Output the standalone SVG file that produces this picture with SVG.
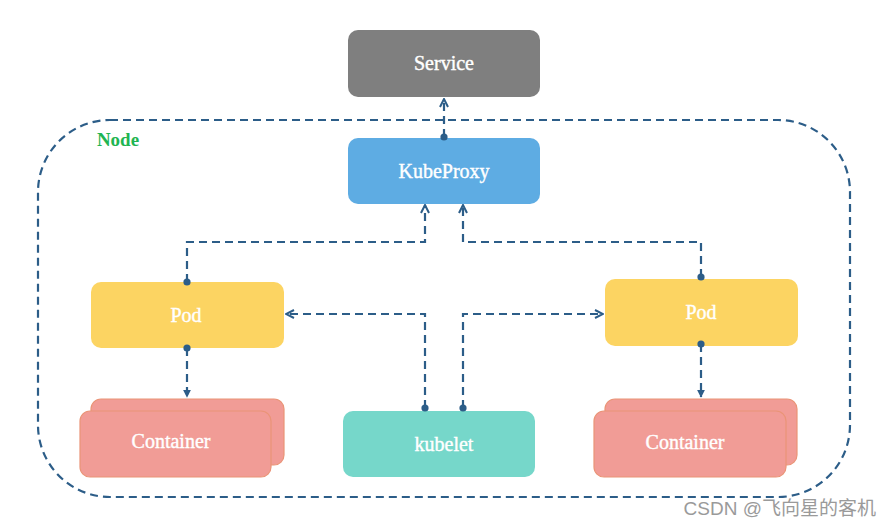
<svg xmlns="http://www.w3.org/2000/svg" width="891" height="526" viewBox="0 0 891 526">
<style>
.lbl{font-family:"Liberation Serif","Times New Roman",serif;font-size:20px;fill:#ffffff;text-anchor:middle;dominant-baseline:central;stroke:#ffffff;stroke-width:0.4}
.conn{fill:none;stroke:#2c5d88;stroke-width:2.2;stroke-dasharray:8 5}
.pod{fill:#fcd462}
.cont{fill:#f19c96;stroke:#ea9477;stroke-width:1.2}
</style>
<defs>
<marker id="chev" viewBox="0 0 10 10" refX="9" refY="5" markerWidth="10" markerHeight="10" markerUnits="userSpaceOnUse" orient="auto">
<path d="M1,1 L9,5 L1,9" fill="none" stroke="#2c5d88" stroke-width="2"/>
</marker>
<marker id="tri" viewBox="0 0 10 10" refX="9" refY="5" markerWidth="8" markerHeight="8" markerUnits="userSpaceOnUse" orient="auto">
<path d="M0,0 L10,5 L0,10 Z" fill="#2c5d88"/>
</marker>
<marker id="dot" viewBox="0 0 10 10" refX="5" refY="5" markerWidth="8" markerHeight="8" markerUnits="userSpaceOnUse">
<circle cx="5" cy="5" r="4.5" fill="#2c5d88"/>
</marker>
</defs>
<rect width="891" height="526" fill="#ffffff"/>
<g id="node-boundary">
<rect x="38" y="120" width="812" height="377" rx="72" ry="72" fill="none" stroke="#2c5d88" stroke-width="2.2" stroke-dasharray="8 5"/>
<text x="118" y="139" style="font-family:'Liberation Serif','Times New Roman',serif;font-size:19px;font-weight:bold;fill:#1fb552;text-anchor:middle;dominant-baseline:central">Node</text>
</g>
<g id="service">
<rect x="348" y="30" width="192" height="67" rx="10" fill="#7f7f7f"/>
<text class="lbl" x="444" y="63">Service</text>
</g>
<g id="kubeproxy">
<rect x="348" y="138" width="192" height="66" rx="10" fill="#5eace3"/>
<text class="lbl" x="444" y="171">KubeProxy</text>
</g>
<g id="pod-left">
<rect class="pod" x="91" y="282" width="193" height="66" rx="10"/>
<text class="lbl" x="186" y="315">Pod</text>
</g>
<g id="pod-right">
<rect class="pod" x="605" y="279" width="193" height="67" rx="10"/>
<text class="lbl" x="701" y="312">Pod</text>
</g>
<g id="container-left">
<rect class="cont" x="91" y="399" width="193" height="66" rx="10" stroke="none"/>
<rect class="cont" x="80" y="411" width="191" height="66" rx="10"/>
<text class="lbl" x="171" y="441">Container</text>
</g>
<g id="container-right">
<rect class="cont" x="605" y="399" width="192" height="66" rx="10" stroke="none"/>
<rect class="cont" x="594" y="411" width="192" height="66" rx="10"/>
<text class="lbl" x="685" y="442">Container</text>
</g>
<g id="kubelet">
<rect x="343" y="411" width="192" height="66" rx="10" fill="#76d7ca"/>
<text class="lbl" x="444" y="444">kubelet</text>
</g>
<g id="connectors">
<path class="conn" d="M444,137 L444,99" marker-start="url(#dot)" marker-end="url(#chev)"/>
<path class="conn" d="M187,282 L187,242 L425,242 L425,205" marker-start="url(#dot)" marker-end="url(#chev)"/>
<path class="conn" d="M701,277 L701,242 L463,242 L463,205" marker-start="url(#dot)" marker-end="url(#chev)"/>
<path class="conn" d="M425,408 L425,314 L286,314" marker-start="url(#dot)" marker-end="url(#chev)"/>
<path class="conn" d="M463,408 L463,314 L603,314" marker-start="url(#dot)" marker-end="url(#chev)"/>
<path class="conn" d="M187,348 L187,397" marker-start="url(#dot)" marker-end="url(#tri)"/>
<path class="conn" d="M701,344 L701,397" marker-start="url(#dot)" marker-end="url(#tri)"/>
</g>
<text x="876" y="508" style="font-family:'Liberation Sans','Noto Sans CJK SC',sans-serif;font-size:19px;fill:#9a9a9a;text-anchor:end;dominant-baseline:central">CSDN @飞向星的客机</text>
</svg>
